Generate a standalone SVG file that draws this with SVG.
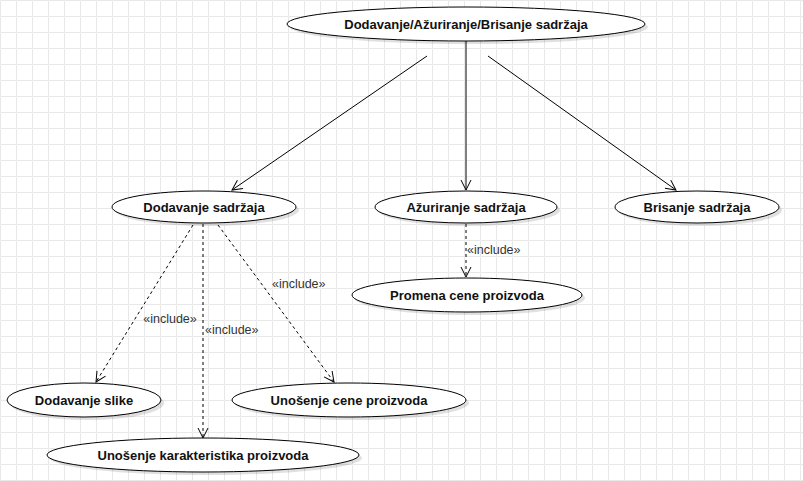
<svg xmlns="http://www.w3.org/2000/svg" width="803" height="481" viewBox="0 0 803 481">
<style>
.uc ellipse.body{fill:#fff;stroke:#000;stroke-width:1}
.uc ellipse.sh{fill:#000;opacity:0.12}
.uc text{font-family:"Liberation Sans",Arial,sans-serif;font-size:13px;font-weight:bold;fill:#111;text-anchor:middle;dominant-baseline:central}
.assoc{stroke:#000;stroke-width:1;fill:none}
.inc{stroke:#000;stroke-width:1;fill:none;stroke-dasharray:3,3}
.lbl{font-family:"Liberation Sans",Arial,sans-serif;font-size:12.5px;fill:#333;dominant-baseline:central}
</style>
<defs>
<pattern id="grid" width="16" height="16" patternUnits="userSpaceOnUse">
<path d="M16 0.5H0.5V16" fill="none" stroke="#e8e8e8" stroke-width="1"/>
</pattern>
<marker id="open" viewBox="0 0 12 12" refX="11" refY="6" markerWidth="12" markerHeight="12" markerUnits="userSpaceOnUse" orient="auto">
<path d="M1 1L11 6L1 11" fill="none" stroke="#000" stroke-width="1"/>
</marker>
</defs>
<rect width="803" height="481" fill="#fff"/>
<rect width="803" height="481" fill="url(#grid)"/>
<g id="connectors">
<line class="assoc" x1="427" y1="56" x2="232" y2="190" marker-end="url(#open)"/>
<line class="assoc" x1="466" y1="41" x2="466" y2="190" marker-end="url(#open)"/>
<line class="assoc" x1="488" y1="56" x2="676" y2="190" marker-end="url(#open)"/>
<line class="inc" x1="193" y1="225" x2="96" y2="382" marker-end="url(#open)"/>
<line class="inc" x1="203" y1="224" x2="203" y2="438" marker-end="url(#open)"/>
<line class="inc" x1="218" y1="225" x2="334" y2="382" marker-end="url(#open)"/>
<line class="inc" x1="466" y1="224" x2="466" y2="277" marker-end="url(#open)"/>
<text class="lbl" x="170" y="319" text-anchor="middle">«include»</text>
<text class="lbl" x="205" y="330">«include»</text>
<text class="lbl" x="272" y="284">«include»</text>
<text class="lbl" x="467" y="250">«include»</text>
</g>
<g id="n-top" class="uc">
<ellipse class="sh" cx="469" cy="27" rx="179" ry="17"/>
<ellipse class="body" cx="466" cy="24" rx="179" ry="17"/>
<text x="466" y="24">Dodavanje/Ažuriranje/Brisanje sadržaja</text>
</g>
<g id="n-dodavanje" class="uc">
<ellipse class="sh" cx="207" cy="210" rx="92" ry="16"/>
<ellipse class="body" cx="204" cy="207" rx="92" ry="16"/>
<text x="204" y="207">Dodavanje sadržaja</text>
</g>
<g id="n-azuriranje" class="uc">
<ellipse class="sh" cx="469" cy="210" rx="91" ry="16"/>
<ellipse class="body" cx="466" cy="207" rx="91" ry="16"/>
<text x="466" y="207">Ažuriranje sadržaja</text>
</g>
<g id="n-brisanje" class="uc">
<ellipse class="sh" cx="700" cy="210" rx="82" ry="16"/>
<ellipse class="body" cx="697" cy="207" rx="82" ry="16"/>
<text x="697" y="207">Brisanje sadržaja</text>
</g>
<g id="n-promena" class="uc">
<ellipse class="sh" cx="470" cy="298" rx="115" ry="17"/>
<ellipse class="body" cx="467" cy="295" rx="115" ry="17"/>
<text x="467" y="295">Promena cene proizvoda</text>
</g>
<g id="n-slike" class="uc">
<ellipse class="sh" cx="87" cy="403" rx="77" ry="17"/>
<ellipse class="body" cx="84" cy="400" rx="77" ry="17"/>
<text x="84" y="400">Dodavanje slike</text>
</g>
<g id="n-cene" class="uc">
<ellipse class="sh" cx="352" cy="403" rx="117" ry="17"/>
<ellipse class="body" cx="349" cy="400" rx="117" ry="17"/>
<text x="349" y="400">Unošenje cene proizvoda</text>
</g>
<g id="n-karakteristika" class="uc">
<ellipse class="sh" cx="206" cy="458" rx="156" ry="17"/>
<ellipse class="body" cx="203" cy="455" rx="156" ry="17"/>
<text x="203" y="455">Unošenje karakteristika proizvoda</text>
</g>
</svg>
